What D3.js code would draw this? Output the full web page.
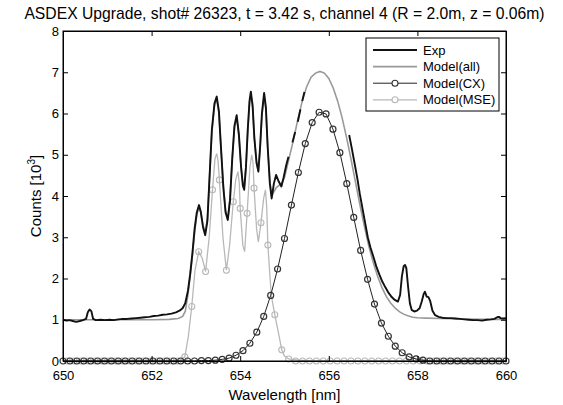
<!DOCTYPE html>
<html>
<head>
<meta charset="utf-8">
<script src="https://cdn.jsdelivr.net/npm/d3@7"></script>
<style>
  body { margin: 0; background: #fff; }
  text { font-family: "Liberation Sans", Arial, sans-serif; fill: #000; }
</style>
</head>
<body>
<div class="chart"></div>
<script>
// wavelength grid of the model (markers)
const cxWl = [650.000, 650.156, 650.313, 650.469, 650.625, 650.781, 650.938, 651.094, 651.250, 651.406,
  651.563, 651.719, 651.875, 652.031, 652.188, 652.344, 652.500, 652.656, 652.813, 652.969,
  653.125, 653.281, 653.438, 653.594, 653.750, 653.906, 654.063, 654.219, 654.375, 654.531,
  654.688, 654.844, 655.000, 655.156, 655.313, 655.469, 655.625, 655.781, 655.938, 656.094,
  656.250, 656.406, 656.563, 656.719, 656.875, 657.031, 657.188, 657.344, 657.500, 657.656,
  657.813, 657.969, 658.125, 658.281, 658.438, 658.594, 658.750, 658.906, 659.063, 659.219,
  659.375, 659.531, 659.688, 659.844, 660.000];
const cxCounts = [0, 0, 0, 0, 0, 0, 0, 0, 0, 0,
  0, 0, 0, 0, 0, 0, 0, 0, 0, 0,
  0.01, 0.01, 0.02, 0.04, 0.07, 0.14, 0.25, 0.43, 0.70, 1.08,
  1.59, 2.23, 2.97, 3.78, 4.57, 5.27, 5.78, 6.03, 5.99, 5.62,
  5.05, 4.30, 3.48, 2.68, 1.98, 1.38, 0.92, 0.60, 0.36, 0.20,
  0.10, 0.05, 0.02, 0, 0, 0, 0, 0, 0, 0,
  0, 0, 0, 0, 0];

const mseWl = [650.094, 650.250, 650.406, 650.563, 650.719, 650.875, 651.031, 651.188, 651.344, 651.500,
  651.656, 651.813, 651.969, 652.125, 652.281, 652.438, 652.594, 652.750, 652.906, 653.063,
  653.219, 653.375, 653.531, 653.688, 653.844, 654.000, 654.156, 654.313, 654.469, 654.625,
  654.781, 654.938, 655.094, 655.250, 655.406, 655.563, 655.719, 655.875, 656.031, 656.188,
  656.344, 656.500, 656.656, 656.813, 656.969, 657.125, 657.281, 657.438, 657.594, 657.750,
  657.906, 658.063, 658.219, 658.375, 658.531, 658.688, 658.844, 659.000, 659.156, 659.313,
  659.469, 659.625, 659.781, 659.938];
const mseCounts = [0, 0, 0, 0, 0, 0, 0, 0, 0, 0,
  0, 0, 0, 0, 0, 0, 0, 0.10, 1.32, 2.65,
  2.17, 4.15, 4.39, 2.20, 3.86, 3.70, 3.58, 4.19, 3.35, 2.81,
  1.12, 0.27, 0.05, 0, 0, 0, 0, 0, 0, 0,
  0, 0, 0, 0, 0, 0, 0, 0, 0, 0,
  0, 0, 0, 0, 0, 0, 0, 0, 0, 0,
  0, 0, 0, 0];

// finer MSE line [wavelength, counts]
const mseLine = [
  [650.0, 0], [652.5, 0], [652.65, 0.02], [652.75, 0.10], [652.83, 0.60], [652.906, 1.32],
  [652.98, 2.20], [653.063, 2.65], [653.14, 2.50], [653.219, 2.17], [653.30, 3.00],
  [653.375, 4.15], [653.43, 4.90], [653.47, 5.03], [653.50, 4.85], [653.531, 4.39],
  [653.61, 3.00], [653.688, 2.20], [653.76, 2.80], [653.844, 3.86], [653.90, 4.40],
  [653.95, 4.59], [653.98, 4.30], [654.00, 3.70], [654.06, 2.80], [654.10, 2.65],
  [654.156, 3.58], [654.22, 4.70], [654.26, 5.00], [654.29, 4.80], [654.313, 4.19],
  [654.37, 3.20], [654.41, 2.89], [654.469, 3.35], [654.53, 3.95], [654.57, 4.15],
  [654.60, 3.70], [654.625, 2.81], [654.70, 1.60], [654.781, 1.12], [654.86, 0.70],
  [654.938, 0.27], [655.00, 0.12], [655.094, 0.05], [655.30, 0.02], [655.60, 0], [660.0, 0]
];

// measured spectrum, null = no data
const expSpectrum = [
  [650.00, 1.00], [650.08, 0.98], [650.15, 0.99], [650.22, 0.97], [650.30, 0.95], [650.38, 0.97],
  [650.45, 0.99], [650.52, 1.02], [650.56, 1.18], [650.60, 1.25], [650.64, 1.21], [650.68, 1.02],
  [650.74, 0.99], [650.85, 1.00], [650.95, 0.99], [651.05, 1.00], [651.15, 0.99], [651.25, 1.01],
  [651.35, 1.02], [651.45, 1.02], [651.55, 1.03], [651.65, 1.04], [651.75, 1.05], [651.85, 1.06],
  [651.95, 1.07], [652.05, 1.09], [652.15, 1.10], [652.25, 1.12], [652.35, 1.13], [652.45, 1.15],
  [652.55, 1.18], [652.63, 1.22], [652.70, 1.28], [652.76, 1.40], [652.82, 1.70], [652.87, 2.10],
  [652.92, 2.60], [652.97, 3.20], [653.02, 3.60], [653.07, 3.78], [653.11, 3.62], [653.16, 3.25],
  [653.21, 3.05], [653.26, 3.40], [653.31, 4.50], [653.36, 5.60], [653.42, 6.25], [653.47, 6.41],
  [653.52, 6.05], [653.57, 5.10], [653.62, 4.20], [653.67, 3.60], [653.72, 3.42], [653.77, 3.90],
  [653.82, 4.90], [653.87, 5.70], [653.92, 5.96], [653.97, 5.50], [654.02, 4.70], [654.06, 4.25],
  [654.09, 4.15], [654.13, 4.70], [654.17, 5.60], [654.21, 6.30], [654.24, 6.53], [654.28, 6.20],
  [654.32, 5.40], [654.37, 4.80], [654.41, 4.59], [654.45, 5.20], [654.49, 6.00], [654.54, 6.50],
  [654.58, 6.15], [654.62, 5.20], [654.67, 4.30], [654.71, 3.94], [654.76, 4.30], [654.81, 4.51],
  [654.87, 4.35], [654.93, 4.23], [654.98, 4.45], [655.04, 4.75], [655.09, 4.95], [655.12, null],
  [655.18, 5.30], [655.24, 5.55], [655.27, null], [655.30, 5.80], [655.36, 6.10], [655.38, null],
  [655.40, 6.30], [655.45, 6.52], [655.47, null],
  [656.46, 5.48], [656.52, 5.15], [656.58, 4.80], [656.64, 4.45], [656.70, 4.05], [656.76, 3.70],
  [656.82, 3.35], [656.88, 3.00], [656.94, 2.75], [657.00, 2.55], [657.07, 2.30], [657.14, 2.10],
  [657.21, 1.92], [657.28, 1.78], [657.35, 1.65], [657.42, 1.55], [657.49, 1.48], [657.56, 1.44],
  [657.61, 1.60], [657.65, 2.05], [657.69, 2.30], [657.72, 2.33], [657.75, 2.25], [657.79, 1.80],
  [657.83, 1.40], [657.87, 1.24], [657.93, 1.20], [657.99, 1.22], [658.05, 1.28], [658.10, 1.45],
  [658.14, 1.62], [658.17, 1.68], [658.21, 1.56], [658.25, 1.55], [658.29, 1.45], [658.34, 1.22],
  [658.40, 1.11], [658.48, 1.07], [658.56, 1.05], [658.66, 1.04], [658.76, 1.04], [658.86, 1.03],
  [658.96, 1.02], [659.06, 1.01], [659.16, 1.00], [659.26, 0.99], [659.36, 0.99], [659.46, 0.98],
  [659.56, 1.00], [659.66, 1.01], [659.74, 1.02], [659.80, 1.06], [659.84, 1.07], [659.88, 1.04],
  [659.94, 1.03], [660.00, 1.04]
];

// total model
const allSpectrum = [
  [650.00, 1.00], [650.50, 1.00], [651.00, 1.00], [651.50, 1.00], [652.00, 1.00], [652.40, 1.01],
  [652.60, 1.03], [652.70, 1.08], [652.76, 1.20], [652.82, 1.60], [652.87, 2.05], [652.92, 2.55],
  [652.97, 3.10], [653.02, 3.55], [653.07, 3.72], [653.11, 3.60], [653.16, 3.30], [653.21, 3.10],
  [653.26, 3.45], [653.31, 4.50], [653.36, 5.55], [653.42, 6.20], [653.47, 6.35], [653.52, 6.00],
  [653.57, 5.10], [653.62, 4.25], [653.67, 3.65], [653.72, 3.45], [653.77, 3.95], [653.82, 4.90],
  [653.87, 5.65], [653.92, 5.90], [653.97, 5.45], [654.02, 4.70], [654.06, 4.30], [654.09, 4.20],
  [654.13, 4.70], [654.17, 5.55], [654.21, 6.25], [654.24, 6.45], [654.28, 6.15], [654.32, 5.40],
  [654.37, 4.80], [654.41, 4.62], [654.45, 5.15], [654.49, 5.95], [654.54, 6.42], [654.58, 6.10],
  [654.62, 5.20], [654.67, 4.35], [654.71, 4.00], [654.76, 4.10], [654.81, 4.20], [654.87, 4.25],
  [654.93, 4.30], [655.00, 4.45], [655.10, 4.90], [655.20, 5.35], [655.30, 5.85], [655.40, 6.30],
  [655.50, 6.65], [655.60, 6.88], [655.70, 6.98], [655.80, 7.02], [655.90, 6.98], [656.00, 6.85],
  [656.10, 6.62], [656.20, 6.30], [656.30, 5.90], [656.40, 5.42], [656.50, 4.90], [656.60, 4.35],
  [656.70, 3.80], [656.80, 3.28], [656.90, 2.80], [657.00, 2.40], [657.10, 2.06], [657.20, 1.78],
  [657.30, 1.56], [657.40, 1.40], [657.50, 1.28], [657.60, 1.19], [657.70, 1.13], [657.80, 1.09],
  [657.90, 1.06], [658.00, 1.05], [658.20, 1.04], [658.50, 1.03], [659.00, 1.02], [659.50, 1.01],
  [660.00, 1.01]
];

const xTicks = [650, 652, 654, 656, 658, 660];
const yTicks = [0, 1, 2, 3, 4, 5, 6, 7, 8];
const legendNames = ['Exp', 'Model(all)', 'Model(CX)', 'Model(MSE)'];

const margin = { left: 63, right: 57, top: 31, bottom: 44 };
const chartWidth = 563;
const chartHeight = 405;
const width = chartWidth - margin.left - margin.right;
const height = chartHeight - margin.top - margin.bottom;

const root = d3.select('.chart')
  .append('svg')
  .attr('width', chartWidth)
  .attr('height', chartHeight);

const svg = root.append('g')
  .attr('transform', `translate(${margin.left}, ${margin.top})`);

const xScale = d3.scaleLinear().domain([650, 660]).range([0, width]);
const yScale = d3.scaleLinear().domain([0, 8]).range([height, 0]);

svg.append('clipPath').attr('id', 'plot-clip')
  .append('rect')
  .attr('x', -4).attr('y', -2)
  .attr('width', width + 8).attr('height', height + 6);

const plot = svg.append('g').attr('clip-path', 'url(#plot-clip)');

const line = d3.line()
  .defined(d => d[1] !== null)
  .x(d => xScale(d[0]))
  .y(d => yScale(d[1]));

const cxPoints = cxWl.map((w, i) => [w, cxCounts[i]]);
const msePoints = mseWl.map((w, i) => [w, mseCounts[i]]);

// MSE
plot.append('path')
  .attr('d', line(mseLine))
  .attr('fill', 'none')
  .attr('stroke', '#b8b8b8')
  .attr('stroke-width', 1.3);
plot.append('g').selectAll('circle')
  .data(msePoints)
  .enter()
  .append('circle')
  .attr('cx', d => xScale(d[0]))
  .attr('cy', d => yScale(d[1]))
  .attr('r', 3)
  .attr('fill', 'none')
  .attr('stroke', '#b8b8b8')
  .attr('stroke-width', 1.1);

// CX
plot.append('path')
  .attr('d', line(cxPoints))
  .attr('fill', 'none')
  .attr('stroke', '#222')
  .attr('stroke-width', 1);
plot.append('g').selectAll('circle')
  .data(cxPoints)
  .enter()
  .append('circle')
  .attr('cx', d => xScale(d[0]))
  .attr('cy', d => yScale(d[1]))
  .attr('r', 3)
  .attr('fill', 'none')
  .attr('stroke', '#333')
  .attr('stroke-width', 1.2);

// Model(all)
plot.append('path')
  .attr('d', line(allSpectrum))
  .attr('fill', 'none')
  .attr('stroke', '#999')
  .attr('stroke-width', 1.6);

// Exp
plot.append('path')
  .attr('d', line(expSpectrum))
  .attr('fill', 'none')
  .attr('stroke', '#111')
  .attr('stroke-width', 1.9)
  .attr('stroke-linejoin', 'round');

// axes box with inward ticks
const tickLen = 5;
svg.append('g')
  .attr('transform', `translate(0, ${height})`)
  .call(d3.axisBottom(xScale).tickValues(xTicks).tickSize(-tickLen).tickSizeOuter(0).tickPadding(10));
svg.append('g')
  .call(d3.axisTop(xScale).tickValues(xTicks).tickSize(-tickLen).tickSizeOuter(0).tickFormat(''));
svg.append('g')
  .call(d3.axisLeft(yScale).tickValues(yTicks).tickSize(-tickLen).tickSizeOuter(0).tickPadding(4));
svg.append('g')
  .attr('transform', `translate(${width}, 0)`)
  .call(d3.axisRight(yScale).tickValues(yTicks).tickSize(-tickLen).tickSizeOuter(0).tickFormat(''));

svg.selectAll('.domain').attr('stroke', '#000');
svg.selectAll('.tick line').attr('stroke', '#000');
svg.selectAll('.tick text')
  .attr('font-family', '"Liberation Sans", Arial, sans-serif')
  .attr('font-size', '13px')
  .attr('fill', '#000');

svg.append('rect')
  .attr('width', width)
  .attr('height', height)
  .attr('fill', 'none')
  .attr('stroke', '#000')
  .attr('stroke-width', 1);

// titles
root.append('text')
  .attr('x', margin.left + width / 2)
  .attr('y', 19)
  .attr('text-anchor', 'middle')
  .attr('font-size', '15.7px')
  .text('ASDEX Upgrade, shot# 26323, t = 3.42 s, channel 4 (R = 2.0m, z = 0.06m)');

root.append('text')
  .attr('x', margin.left + width / 2)
  .attr('y', 400)
  .attr('text-anchor', 'middle')
  .attr('font-size', '15px')
  .text('Wavelength [nm]');

const yLabel = root.append('text')
  .attr('transform', `translate(41, ${margin.top + height / 2}) rotate(-90)`)
  .attr('text-anchor', 'middle')
  .attr('font-size', '15px');
yLabel.append('tspan').text('Counts [10');
yLabel.append('tspan').attr('font-size', '10px').attr('dy', -6).text('3');
yLabel.append('tspan').attr('dy', 6).text(']');

// legend
const legend = svg.append('g')
  .attr('transform', `translate(${366 - margin.left}, ${38 - margin.top})`);
legend.append('rect')
  .attr('width', 133)
  .attr('height', 73)
  .attr('fill', '#fff')
  .attr('stroke', '#000')
  .attr('stroke-width', 1);

const legendStyles = [
  { stroke: '#111', width: 1.9, marker: null },
  { stroke: '#999', width: 1.6, marker: null },
  { stroke: '#222', width: 1, marker: '#333' },
  { stroke: '#b8b8b8', width: 1.3, marker: '#b8b8b8' }
];

const entries = legend.selectAll('g.entry')
  .data(legendNames)
  .enter()
  .append('g')
  .attr('class', 'entry')
  .attr('transform', (d, i) => `translate(0, ${12 + i * 16.6})`);

entries.append('line')
  .attr('x1', 7).attr('x2', 51)
  .attr('y1', 0).attr('y2', 0)
  .attr('stroke', (d, i) => legendStyles[i].stroke)
  .attr('stroke-width', (d, i) => legendStyles[i].width);

entries.filter((d, i) => legendStyles[i].marker)
  .append('circle')
  .attr('cx', 29).attr('cy', 0).attr('r', 3)
  .attr('fill', '#fff')
  .attr('stroke', d => legendStyles[legendNames.indexOf(d)].marker)
  .attr('stroke-width', 1.1);

entries.append('text')
  .attr('x', 57)
  .attr('y', 0)
  .attr('dy', '0.35em')
  .attr('font-size', '13px')
  .text(d => d);
</script>
</body>
</html>
